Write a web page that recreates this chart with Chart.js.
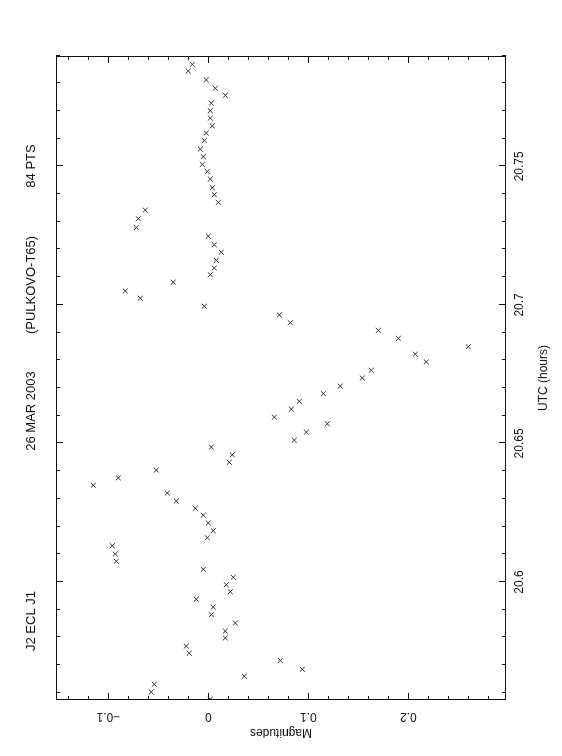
<!DOCTYPE html>
<html>
<head>
<meta charset="utf-8">
<script src="https://cdn.jsdelivr.net/npm/chart.js@4/dist/chart.umd.min.js"></script>
<style>
  html, body { margin: 0; padding: 0; background: #fff; }
  #wrap { position: relative; width: 562px; height: 756px; overflow: hidden; }
  /* the plot is drawn landscape and turned a quarter turn, like the printed page */
  #canvas { position: absolute; left: 0; top: 0; transform-origin: 0 0; transform: translateY(756px) rotate(-90deg); }
</style>
</head>
<body>
<div id="wrap"><canvas id="canvas" width="756" height="562"></canvas></div>
<script>
var utc = [20.5577, 20.5603, 20.5631, 20.5660, 20.5685, 20.5717, 20.5743, 20.5769, 20.5798, 20.5823,
           20.5852, 20.5882, 20.5910, 20.5938, 20.5965, 20.5990, 20.6017, 20.6046, 20.6075, 20.6101,
           20.6131, 20.6160, 20.6185, 20.6213, 20.6241, 20.6266, 20.6292, 20.6321, 20.6349, 20.6376,
           20.6404, 20.6432, 20.6459, 20.6487, 20.6512, 20.6541, 20.6571, 20.6595, 20.6624, 20.6652,
           20.6680, 20.6707, 20.6736, 20.6764, 20.6794, 20.6822, 20.6849, 20.6879, 20.6908, 20.6936,
           20.6964, 20.6995, 20.7024, 20.7050, 20.7082, 20.7109, 20.7133, 20.7161, 20.7190, 20.7217,
           20.7248, 20.7279, 20.7311, 20.7342, 20.7370, 20.7398, 20.7423, 20.7454, 20.7481, 20.7507,
           20.7535, 20.7562, 20.7593, 20.7620, 20.7646, 20.7674, 20.7701, 20.7728, 20.7756, 20.7782,
           20.7812, 20.7844, 20.7868];
var mag = [0.002, -0.057, -0.054, 0.036, 0.094, 0.072, -0.019, -0.022, 0.017, 0.017,
           0.027, 0.003, 0.005, -0.012, 0.022, 0.018, 0.025, -0.005, -0.092, -0.093,
           -0.096, -0.001, 0.005, 0.000, -0.005, -0.013, -0.032, -0.041, -0.115, -0.090,
           -0.052, 0.021, 0.024, 0.003, 0.086, 0.098, 0.119, 0.066, 0.083, 0.091,
           0.115, 0.132, 0.154, 0.163, 0.218, 0.207, 0.260, 0.190, 0.170, 0.082,
           0.071, -0.004, -0.068, -0.083, -0.035, 0.002, 0.006, 0.008, 0.013, 0.006,
           0.000, -0.072, -0.070, -0.063, 0.010, 0.006, 0.004, 0.002, -0.001, -0.006,
           -0.005, -0.008, -0.004, -0.002, 0.004, 0.002, 0.002, 0.003, 0.017, 0.007,
           -0.002, -0.020, -0.016];
var utcTicks = [20.6, 20.65, 20.7, 20.75];
var magTicks = [-0.1, 0, 0.1, 0.2];
var titleParts = ["J2 ECL J1", "26 MAR 2003", "(PULKOVO-T65)", "84 PTS"];

var FONT = '"Liberation Sans", Arial, sans-serif';
var INK = '#111';

var points = utc.map(function(t, i) { return {x: t, y: mag[i]}; });

// frame with inward ticks on all four sides, pgplot style
var framePlugin = {
  id: 'frame',
  afterDraw: function(chart) {
    var ctx = chart.ctx, a = chart.chartArea;
    var xs = chart.scales.x, ys = chart.scales.y;
    ctx.save();
    ctx.strokeStyle = INK;
    ctx.lineWidth = 1;
    ctx.strokeRect(a.left + 0.5, a.top + 0.5, a.right - a.left - 1, a.bottom - a.top - 1);
    ctx.beginPath();
    for (var i = 2056; i <= 2079; i++) {
      var px = Math.round(xs.getPixelForValue(i / 100)) + 0.5;
      var len = (i % 5 === 0) ? 7 : 4;
      ctx.moveTo(px, a.bottom); ctx.lineTo(px, a.bottom - len);
      ctx.moveTo(px, a.top); ctx.lineTo(px, a.top + len);
    }
    for (var j = -14; j <= 28; j += 2) {
      var py = Math.round(ys.getPixelForValue(j / 100)) + 0.5;
      var len2 = (j % 10 === 0) ? 7 : 4;
      ctx.moveTo(a.left, py); ctx.lineTo(a.left + len2, py);
      ctx.moveTo(a.right, py); ctx.lineTo(a.right - len2, py);
    }
    ctx.stroke();

    // heading above the frame
    ctx.fillStyle = INK;
    ctx.font = '13px ' + FONT;
    ctx.textAlign = 'center';
    ctx.textBaseline = 'alphabetic';
    var at = [135, 345, 471, 590];
    titleParts.forEach(function(s, k) { ctx.fillText(s, at[k], 35); });
    ctx.restore();
  }
};

new Chart(document.getElementById('canvas'), {
  type: 'scatter',
  data: {
    datasets: [{
      data: points,
      pointStyle: 'crossRot',
      pointRadius: 3.5,
      pointHoverRadius: 3.5,
      borderWidth: 1,
      borderColor: '#333',
      backgroundColor: '#333'
    }]
  },
  options: {
    responsive: false,
    animation: false,
    devicePixelRatio: 1,
    layout: { padding: { top: 56, right: 56, left: 0, bottom: 0 } },
    plugins: { legend: { display: false }, tooltip: { enabled: false } },
    scales: {
      x: {
        type: 'linear',
        min: 20.55742,
        max: 20.78982,
        grid: { display: false, drawTicks: false },
        border: { display: false },
        afterBuildTicks: function(s) { s.ticks = utcTicks.map(function(v) { return {value: v}; }); },
        afterFit: function(s) { s.height = 56; },
        ticks: {
          padding: 6,
          color: INK,
          font: { family: FONT, size: 12 },
          callback: function(v) { return String(v); }
        },
        title: {
          display: true,
          text: 'UTC (hours)',
          color: INK,
          font: { family: FONT, size: 12 },
          padding: { top: 0, bottom: 11 }
        }
      },
      y: {
        type: 'linear',
        reverse: true,
        min: -0.1523,
        max: 0.2977,
        grid: { display: false, drawTicks: false },
        border: { display: false },
        afterBuildTicks: function(s) { s.ticks = magTicks.map(function(v) { return {value: v}; }); },
        afterFit: function(s) { s.width = 56; },
        ticks: {
          minRotation: 90,
          maxRotation: 90,
          crossAlign: 'center',
          padding: 4,
          color: INK,
          font: { family: FONT, size: 12 },
          callback: function(v) { return String(v).replace('-', '\u2212'); }
        },
        title: {
          display: true,
          text: 'Magnitudes',
          color: INK,
          font: { family: FONT, size: 12 },
          padding: { top: 16, bottom: 0 }
        }
      }
    }
  },
  plugins: [framePlugin]
});
</script>
</body>
</html>
